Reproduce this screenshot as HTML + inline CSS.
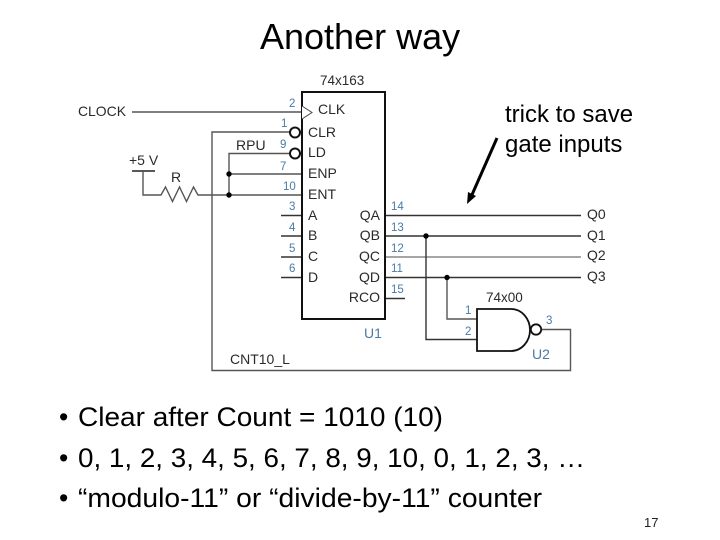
<!DOCTYPE html>
<html>
<head>
<meta charset="utf-8">
<style>
html,body{margin:0;padding:0;background:#fff;}
svg{display:block;}
text{font-family:"Liberation Sans",Arial,sans-serif;}
.l{font-size:14px;fill:#2a2a2a;}
.p{font-size:11.5px;fill:#4a7ba6;}
.b{font-size:26.5px;fill:#000;}
</style>
</head>
<body>
<svg width="720" height="540" viewBox="0 0 720 540" xmlns="http://www.w3.org/2000/svg">
<rect width="720" height="540" fill="#fff"/>
<text x="260" y="49" font-size="36" fill="#000">Another way</text>

<!-- wires -->
<g fill="none" stroke="#555" stroke-width="1.4">
<path d="M132 112H302"/>
<path d="M290 132H212V370.5H570.5V329.5H542"/>
<path d="M290 153.5H229V195"/>
<path d="M229 174H302"/>
<path d="M132 171H155" stroke="#222" stroke-width="1.6"/>
<path d="M143 171V195H157L161 195L165.500 187L172.500 201.500L179.500 187L186.500 201.500L193.500 187L198 195H302"/>
<path d="M281 215.500H302M281 236H302M281 257H302M281 277.500H302" stroke="#333"/>
<path d="M385 215.500H581M385 236H581M385 277.500H581M385 298.500H405" stroke="#333"/>
<path d="M385 257H581" stroke="#888" stroke-width="1.5"/>
<path d="M426 236V339.500H477" stroke="#333"/>
<path d="M447 277.500V319H477"/>
</g>
<g fill="#000">
<circle cx="229" cy="174" r="2.700"/>
<circle cx="229" cy="195" r="2.700"/>
<circle cx="426" cy="236" r="2.700"/>
<circle cx="447" cy="277.500" r="2.700"/>
</g>

<!-- 74x163 -->
<rect x="302" y="92" width="83" height="227" fill="#fff" stroke="#111" stroke-width="2"/>
<path d="M302 106L312 112.500L302 119" fill="#fff" stroke="#444" stroke-width="1"/>
<circle cx="295" cy="132.500" r="5" fill="#fff" stroke="#111" stroke-width="2"/>
<circle cx="295" cy="153.500" r="5" fill="#fff" stroke="#111" stroke-width="2"/>

<!-- NAND -->
<path d="M477 309H511C522 309 530 319 530 330C530 341 522 351 511 351H477Z" fill="#fff" stroke="#111" stroke-width="1.800"/>
<circle cx="536" cy="329.500" r="5.200" fill="#fff" stroke="#111" stroke-width="1.800"/>

<!-- labels -->
<text class="l" x="78" y="116" textLength="48" lengthAdjust="spacingAndGlyphs">CLOCK</text>
<text class="l" x="320" y="85" style="font-size:13.500px">74x163</text>
<text class="l" x="318" y="114">CLK</text>
<text class="l" x="308" y="137">CLR</text>
<text class="l" x="308" y="157">LD</text>
<text class="l" x="308" y="178">ENP</text>
<text class="l" x="308" y="199">ENT</text>
<text class="l" x="308" y="220">A</text>
<text class="l" x="308" y="240">B</text>
<text class="l" x="308" y="261">C</text>
<text class="l" x="308" y="282">D</text>
<text class="l" x="380" y="220" text-anchor="end">QA</text>
<text class="l" x="380" y="240" text-anchor="end">QB</text>
<text class="l" x="380" y="261" text-anchor="end">QC</text>
<text class="l" x="380" y="282" text-anchor="end">QD</text>
<text class="l" x="380" y="302" text-anchor="end">RCO</text>
<text class="l" x="236" y="150">RPU</text>
<text class="l" x="129" y="165">+5 V</text>
<text class="l" x="171" y="182">R</text>
<text class="l" x="230" y="364">CNT10_L</text>
<text class="l" x="587" y="219">Q0</text>
<text class="l" x="587" y="240">Q1</text>
<text class="l" x="587" y="260">Q2</text>
<text class="l" x="587" y="281">Q3</text>
<text class="l" x="486" y="302" style="font-size:13.500px">74x00</text>

<text class="p" x="289" y="107">2</text>
<text class="p" x="281" y="127">1</text>
<text class="p" x="280" y="148">9</text>
<text class="p" x="280" y="170">7</text>
<text class="p" x="283" y="190">10</text>
<text class="p" x="289" y="210">3</text>
<text class="p" x="289" y="231">4</text>
<text class="p" x="289" y="252">5</text>
<text class="p" x="289" y="272">6</text>
<text class="p" x="391" y="210">14</text>
<text class="p" x="391" y="231">13</text>
<text class="p" x="391" y="252">12</text>
<text class="p" x="391" y="272">11</text>
<text class="p" x="391" y="293">15</text>
<text class="p" x="465" y="314">1</text>
<text class="p" x="465" y="335">2</text>
<text class="p" x="546" y="324">3</text>
<text class="p" x="364" y="338" style="font-size:14px">U1</text>
<text class="p" x="532" y="359" style="font-size:14px">U2</text>

<!-- annotation -->
<text x="505" y="122" font-size="24" fill="#000">trick to save</text>
<text x="505" y="152" font-size="24" fill="#000">gate inputs</text>
<path d="M497 138L471 197" stroke="#000" stroke-width="3" fill="none"/>
<path d="M467 204L468 192L476 196Z" fill="#000"/>

<!-- bullets -->
<text class="b" x="59" y="426">•</text>
<text class="b" x="78" y="426" textLength="365" lengthAdjust="spacingAndGlyphs">Clear after Count = 1010 (10)</text>
<text class="b" x="59" y="467">•</text>
<text class="b" x="78" y="467" textLength="507" lengthAdjust="spacingAndGlyphs">0, 1, 2, 3, 4, 5, 6, 7, 8, 9, 10, 0, 1, 2, 3, …</text>
<text class="b" x="59" y="507">•</text>
<text class="b" x="78" y="507" textLength="464" lengthAdjust="spacingAndGlyphs">“modulo-11” or “divide-by-11” counter</text>
<text x="644" y="527" font-size="13" fill="#222">17</text>
</svg>
</body>
</html>
